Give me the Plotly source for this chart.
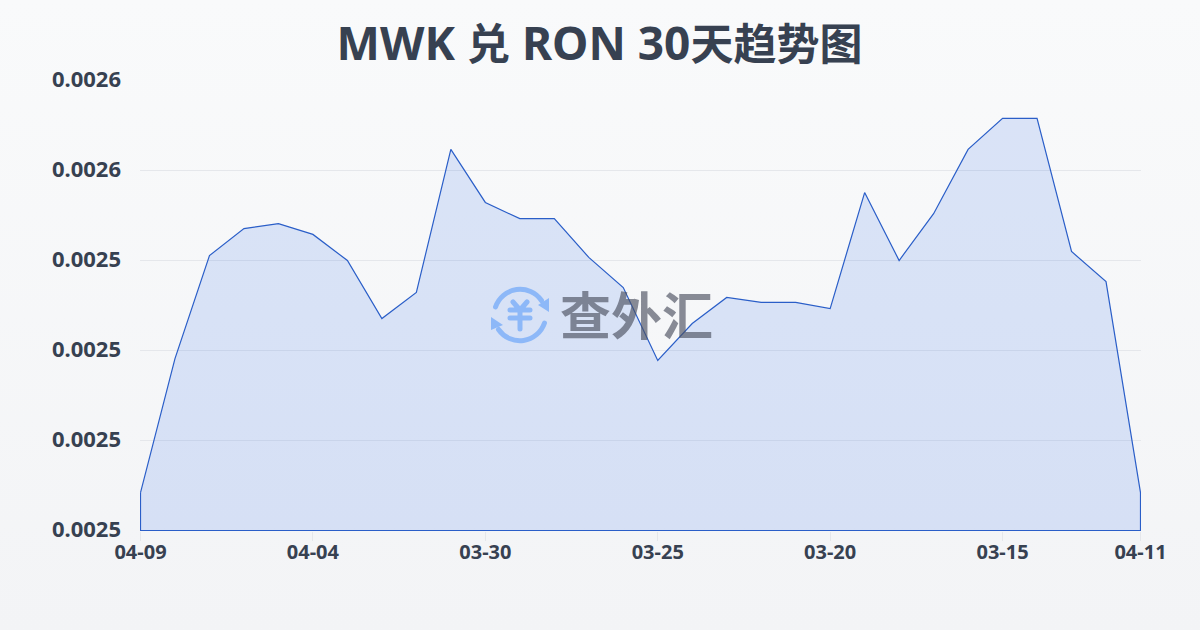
import base64
import plotly.graph_objects as go

# ---- data ----
dates = ["04-09", "04-08", "04-07", "04-06", "04-05", "04-04", "04-03", "04-02", "04-01", "03-31",
         "03-30", "03-29", "03-28", "03-27", "03-26", "03-25", "03-24", "03-23", "03-22", "03-21",
         "03-20", "03-19", "03-18", "03-17", "03-16", "03-15", "03-14", "03-13", "03-12", "04-11"]
rates = [0.0024884, 0.0025182, 0.0025411, 0.0025471, 0.0025482, 0.0025458, 0.0025400, 0.0025271,
         0.0025329, 0.0025647, 0.0025529, 0.0025493, 0.0025493, 0.0025407, 0.0025340, 0.0025178,
         0.0025260, 0.0025318, 0.0025307, 0.0025307, 0.0025293, 0.0025551, 0.0025400, 0.0025504,
         0.0025647, 0.0025716, 0.0025716, 0.0025420, 0.0025353, 0.0024884]
x_ticks = ["04-09", "04-04", "03-30", "03-25", "03-20", "03-15", "04-11"]
y_ticks = [0.00248, 0.00250, 0.00252, 0.00254, 0.00256, 0.00258]
title_parts = [("MWK ", None), ("兑", 43), (" RON 30", None), ("天趋势图", 43)]
watermark_text = "查外汇"

# ---- style ----
TEXT = "#374151"
LATIN = "Noto Sans, Noto Sans CJK SC, sans-serif"
W, H = 1200, 630
L, R, T, B = 140, 59, 80, 99
PW, PH = W - L - R, H - T - B
# half-pixel padding on both axes so the outline falls on whole pixels
x_pad = 0.5 * (len(dates) - 1) / 1000
y_pad = 0.5 * (y_ticks[-1] - y_ticks[0]) / 450


def svg_uri(svg):
    return "data:image/svg+xml;base64," + base64.b64encode(svg.encode()).decode()


title_html = "".join(
    t if s is None else f'<span style="font-size:{s}px">{t}</span>' for t, s in title_parts
)

bg_svg = (
    f'<svg xmlns="http://www.w3.org/2000/svg" width="{W}" height="{H}" preserveAspectRatio="none">'
    '<defs><linearGradient id="g" x1="0" y1="0" x2="0" y2="1">'
    '<stop offset="0" stop-color="#f9fafb"/><stop offset="1" stop-color="#f3f4f6"/>'
    '</linearGradient></defs>'
    f'<rect width="{W}" height="{H}" fill="url(#g)"/></svg>'
)
icon_svg = (
    '<svg xmlns="http://www.w3.org/2000/svg" width="58" height="58" viewBox="0 0 58 58">'
    '<g fill="none" stroke="#8db8f8" stroke-width="5" stroke-linecap="round" stroke-linejoin="round">'
    '<path d="M4.5 21 A26 26 0 0 1 50.5 14.5"/><path d="M53.5 37 A26 26 0 0 1 7.5 43.5"/>'
    '<path d="M22 16 L29 24 L36 16 M19 24 H39 M19 32 H39 M29 24 V43"/></g>'
    '<path d="M58 12 L58 26 L47 19 Z M0 31 L0 44 L12 39 Z" fill="#8db8f8"/></svg>'
)

base = y_ticks[0]
fig = go.Figure(go.Scatter(
    x=dates + [dates[-1], dates[0], dates[0]],
    y=rates + [base, base, rates[0]],
    mode="lines",
    fill="toself",
    fillcolor="rgba(37,99,235,0.14)",
    line=dict(color="#2a5ec8", width=1.2),
    cliponaxis=False,
    hoverinfo="skip",
))

fig.update_layout(
    width=W, height=H,
    margin=dict(l=L, r=R, t=T, b=B, autoexpand=False),
    paper_bgcolor="rgba(0,0,0,0)",
    plot_bgcolor="rgba(0,0,0,0)",
    showlegend=False,
    font=dict(family=LATIN, color=TEXT),
    title=dict(
        text=f"<b>{title_html}</b>",
        font=dict(size=46, color=TEXT, family=LATIN),
        x=599.5 / W, xanchor="center", y=1 - 44 / H, yanchor="middle",
    ),
    xaxis=dict(
        type="category", categoryorder="array", categoryarray=dates,
        range=[-x_pad, len(dates) - 1 + x_pad],
        tickmode="array", tickvals=x_ticks, ticktext=[f"<b>{t}</b>" for t in x_ticks],
        tickfont=dict(size=20, color=TEXT),
        ticks="outside", ticklen=9, tickwidth=1, tickcolor="#e5e7eb",
        ticklabelstandoff=-6,
        showgrid=False, zeroline=False, showline=False,
    ),
    yaxis=dict(
        range=[y_ticks[0] - y_pad, y_ticks[-1] + y_pad],
        tickmode="array", tickvals=y_ticks,
        ticktext=[f"<b>{v:.4f}</b>" for v in y_ticks],
        tickfont=dict(size=22, color=TEXT),
        ticks="", ticklabelstandoff=18, ticklabelshift=-1,
        showgrid=True, gridcolor="#e5e7eb", gridwidth=1,
        zeroline=False, showline=False,
    ),
    images=[
        dict(source=svg_uri(bg_svg), xref="paper", yref="paper",
             x=-L / PW, y=1 + T / PH, sizex=W / PW, sizey=H / PH,
             xanchor="left", yanchor="top", sizing="stretch", layer="below"),
        dict(source=svg_uri(icon_svg), xref="paper", yref="paper",
             x=(491 - L) / PW, y=1 - (286 - T) / PH, sizex=58 / PW, sizey=58 / PH,
             xanchor="left", yanchor="top", sizing="stretch", layer="above"),
    ],
    annotations=[dict(
        text=f"<b>{watermark_text}</b>", xref="paper", yref="paper",
        x=(636 - L) / PW, y=1 - (313 - T) / PH, showarrow=False,
        font=dict(size=51, color="rgba(75,80,95,0.65)", family="Noto Sans CJK SC"),
    )],
)

fig.write_html("out.html", config={"displayModeBar": False},
               post_script="document.body.style.margin='0';")
